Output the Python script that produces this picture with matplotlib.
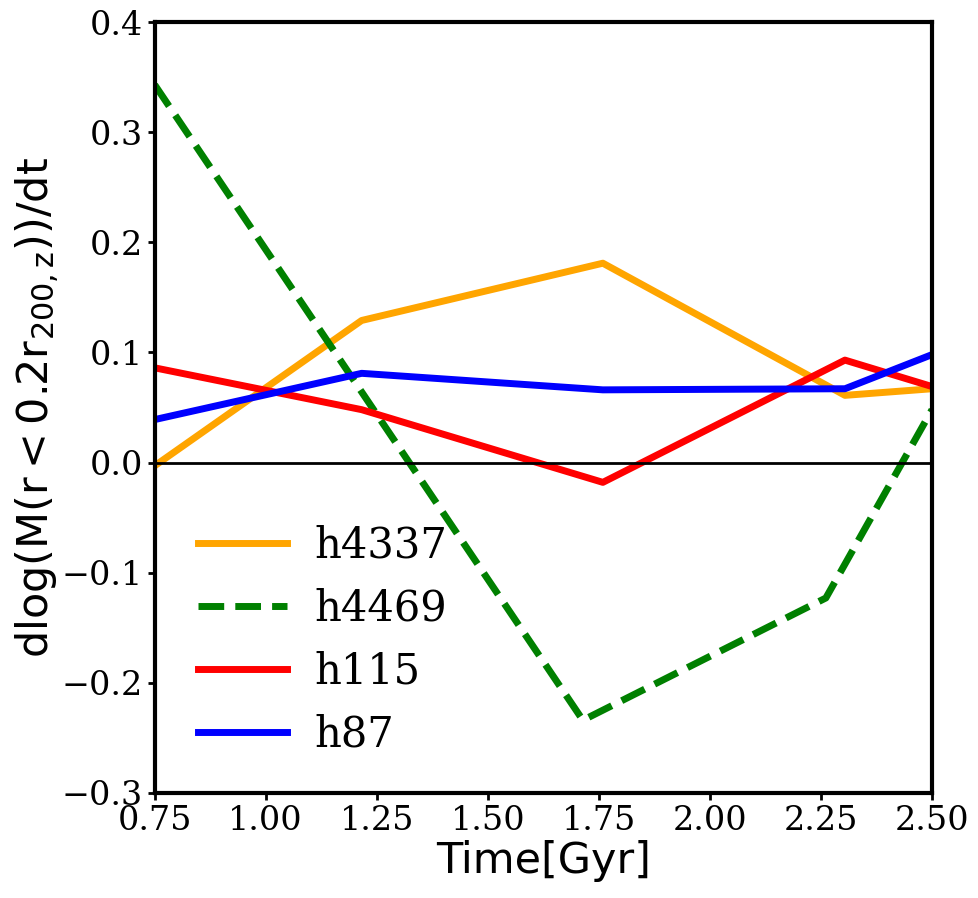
import matplotlib
matplotlib.use("Agg")
import matplotlib.pyplot as plt

# time of each snapshot [Gyr]
time = [0.75, 1.216, 1.759, 2.304, 2.50]
time_4469 = [0.75, 1.714, 2.261, 2.50]

h4337 = [-0.003, 0.129, 0.181, 0.061, 0.067]
h4469 = [0.343, -0.234, -0.123, 0.048]
h115 = [0.086, 0.048, -0.018, 0.093, 0.069]
h87 = [0.039, 0.081, 0.066, 0.067, 0.098]

fig = plt.figure(figsize=(9.79, 8.98), dpi=100)
ax = fig.add_axes([0.158, 0.117, 0.794, 0.8585])

ax.plot(time, h4337, color='orange', lw=5, label='h4337')
ax.plot(time_4469, h4469, color='green', lw=5, ls='--', label='h4469')
ax.plot(time, h115, color='red', lw=5, label='h115')
ax.plot(time, h87, color='blue', lw=5, label='h87')
ax.axhline(0, color='black', lw=2)

ax.set_xlim(0.75, 2.5)
ax.set_ylim(-0.3, 0.4)
ax.set_xticks([0.75, 1.00, 1.25, 1.50, 1.75, 2.00, 2.25, 2.50])
ax.set_yticks([-0.3, -0.2, -0.1, 0.0, 0.1, 0.2, 0.3, 0.4])
ax.set_xticklabels(['%.2f' % t for t in ax.get_xticks()], family='DejaVu Serif')
ax.set_yticklabels(['%.1f' % t if t >= 0 else '\u2212%.1f' % abs(t) for t in ax.get_yticks()],
                   family='DejaVu Serif')
ax.tick_params(labelsize=24, width=2, length=5)
for s in ax.spines.values():
    s.set_linewidth(3)

ax.set_xlabel('Time[Gyr]', fontsize=31, labelpad=2)
ax.set_ylabel(r'dlog(M(r$<0.2$r$_{\mathrm{200,z}}$))/dt', fontsize=31, labelpad=0)

ax.legend(loc='lower left', frameon=False, handlelength=2.15, handletextpad=0.65,
          prop={'family': 'DejaVu Serif', 'size': 30}, borderaxespad=0.5,
          bbox_to_anchor=(0.007, 0.0))

fig.savefig('out.png', dpi=100)
